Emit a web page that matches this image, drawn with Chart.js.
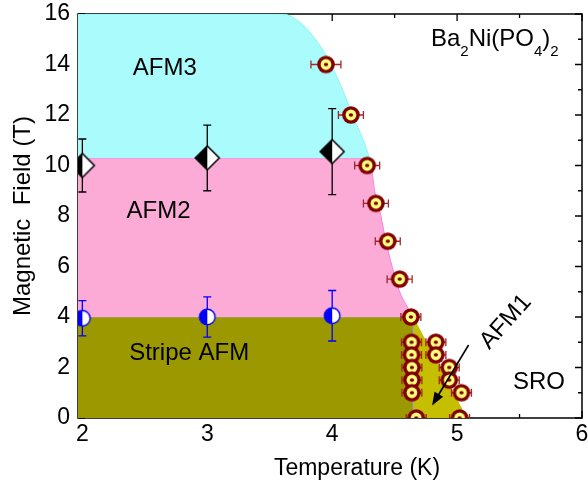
<!DOCTYPE html>
<html>
<head>
<meta charset="utf-8">
<script src="https://cdn.jsdelivr.net/npm/chart.js@4.4.0/dist/chart.umd.min.js"></script>
<style>
  html, body { margin: 0; padding: 0; background: #fff; }
</style>
</head>
<body>
<canvas id="chart" width="588" height="487"></canvas>
<script>
// transition points from the measurements (T in K, H in T)
const tcTemp = [3.95, 4.15, 4.28, 4.35, 4.445, 4.54, 4.63, 4.635, 4.635, 4.638, 4.638, 4.638, 4.673, 4.83, 4.83, 4.937, 4.937, 5.035, 5.02];
const tcField = [14, 12, 10, 8.5, 7, 5.5, 4, 3, 2.5, 2, 1.5, 1, 0, 3, 2.5, 2, 1.5, 1, 0];
const tcErr = [0.12, 0.1, 0.1, 0.1, 0.1, 0.1, 0.08, 0.08, 0.08, 0.08, 0.08, 0.08, 0.08, 0.08, 0.08, 0.08, 0.08, 0.08, 0.08];

const hc2Temp = [2, 3, 4];
const hc2Field = [10.0, 10.3, 10.55];
const hc2Err = [1.05, 1.3, 1.7];

const hc1Temp = [2, 3, 4];
const hc1Field = [3.95, 4.0, 4.05];
const hc1Err = [0.7, 0.8, 1.0];

// outlines of the shaded phases
const afm3Temp = [1.96, 3.6, 3.76, 3.88, 3.96, 4.03, 4.1, 4.18, 4.25, 4.3];
const afm3Field = [16, 16, 15.6, 14.9, 14.3, 13.6, 12.8, 11.8, 11, 10.3];
const afm2Temp = [1.96, 4.3, 4.34, 4.39, 4.43, 4.48, 4.54, 4.59, 4.645];
const afm2Field = [10.3, 10.3, 9, 8, 7, 6, 5, 4.5, 4];
const stripeTemp = [1.96, 4.65, 4.65];
const stripeField = [4, 4, 0];
const afm1Temp = [4.65, 5.08];
const afm1Field = [4, 0];

// axis ticks
const tempTicks = [2, 3, 4, 5, 6];
const fieldTicks = [0, 2, 4, 6, 8, 10, 12, 14, 16];

const FONT = 'Arial, "Liberation Sans", Helvetica, sans-serif';

const zip = (xs, ys) => xs.map((v, i) => ({ x: v, y: ys[i] }));

// marker images
function makeMarker(size, draw) {
  const c = document.createElement('canvas');
  c.width = size;
  c.height = size;
  draw(c.getContext('2d'), size / 2);
  return c;
}

const tcMarker = makeMarker(20, (g, m) => {
  g.fillStyle = '#800000';
  g.beginPath(); g.arc(m, m, 8.8, 0, Math.PI * 2); g.fill();
  g.fillStyle = '#ffff80';
  g.beginPath(); g.arc(m, m, 5.4, 0, Math.PI * 2); g.fill();
  g.fillStyle = '#800000';
  g.beginPath(); g.ellipse(m, m, 2.2, 1.7, 0, 0, Math.PI * 2); g.fill();
});

const diamondMarker = makeMarker(28, (g, m) => {
  const r = 12;
  g.fillStyle = '#fff';
  g.beginPath(); g.moveTo(m, m - r); g.lineTo(m + r, m); g.lineTo(m, m + r); g.closePath(); g.fill();
  g.fillStyle = '#000';
  g.beginPath(); g.moveTo(m, m - r); g.lineTo(m - r, m); g.lineTo(m, m + r); g.closePath(); g.fill();
  g.strokeStyle = '#000';
  g.lineWidth = 1.5;
  g.beginPath(); g.moveTo(m, m - r); g.lineTo(m + r, m); g.lineTo(m, m + r); g.lineTo(m - r, m); g.closePath(); g.stroke();
});

const halfCircleMarker = makeMarker(20, (g, m) => {
  const r = 7.8;
  g.fillStyle = '#fff';
  g.beginPath(); g.arc(m, m, r, 0, Math.PI * 2); g.fill();
  g.fillStyle = '#0000ff';
  g.beginPath(); g.arc(m, m, r, Math.PI / 2, Math.PI * 1.5); g.closePath(); g.fill();
  g.strokeStyle = '#0000ff';
  g.lineWidth = 1.4;
  g.beginPath(); g.arc(m, m, r, 0, Math.PI * 2); g.stroke();
});

// frame with inward ticks on all four sides
const framePlugin = {
  id: 'frame',
  beforeDatasetsDraw(chart) {
    const { ctx, chartArea: a, scales: { x, y } } = chart;
    const minors = vals => vals.slice(0, -1).map((v, i) => (v + vals[i + 1]) / 2);
    ctx.save();
    ctx.strokeStyle = '#000';
    ctx.lineWidth = 1.5;
    ctx.strokeRect(a.left, a.top, a.right - a.left, a.bottom - a.top);
    ctx.lineWidth = 1.3;
    ctx.beginPath();
    const xt = (v, len) => {
      const px = x.getPixelForValue(v);
      ctx.moveTo(px, a.bottom); ctx.lineTo(px, a.bottom - len);
      ctx.moveTo(px, a.top); ctx.lineTo(px, a.top + len);
    };
    const yt = (v, len) => {
      const py = y.getPixelForValue(v);
      ctx.moveTo(a.left, py); ctx.lineTo(a.left + len, py);
      ctx.moveTo(a.right, py); ctx.lineTo(a.right - len, py);
    };
    tempTicks.forEach(v => xt(v, 7));
    minors(tempTicks).forEach(v => xt(v, 4));
    fieldTicks.forEach(v => yt(v, 7));
    minors(fieldTicks).forEach(v => yt(v, 4));
    ctx.stroke();
    ctx.restore();
  }
};

// error bars, drawn just before their own markers
const errorBarPlugin = {
  id: 'errorBars',
  beforeDatasetDraw(chart, args) {
    const ds = chart.data.datasets[args.index];
    if (!ds.err) return;
    const { ctx, chartArea: a, scales: { x, y } } = chart;
    ctx.save();
    ctx.beginPath();
    ctx.rect(a.left, a.top, a.right - a.left, a.bottom - a.top);
    ctx.clip();
    ctx.strokeStyle = ds.errColor;
    ctx.lineWidth = 1.3;
    ctx.beginPath();
    ds.data.forEach((p, i) => {
      const e = ds.err[i];
      const cap = 4;
      if (ds.errAxis === 'x') {
        const py = y.getPixelForValue(p.y);
        const x0 = x.getPixelForValue(p.x - e), x1 = x.getPixelForValue(p.x + e);
        ctx.moveTo(x0, py); ctx.lineTo(x1, py);
        ctx.moveTo(x0, py - cap); ctx.lineTo(x0, py + cap);
        ctx.moveTo(x1, py - cap); ctx.lineTo(x1, py + cap);
      } else {
        const px = x.getPixelForValue(p.x);
        const y0 = y.getPixelForValue(p.y - e), y1 = y.getPixelForValue(p.y + e);
        ctx.moveTo(px, y0); ctx.lineTo(px, y1);
        ctx.moveTo(px - cap, y0); ctx.lineTo(px + cap, y0);
        ctx.moveTo(px - cap, y1); ctx.lineTo(px + cap, y1);
      }
    });
    ctx.stroke();
    ctx.restore();
  }
};

// phase names, compound, arrow
const phaseLabels = [
  { text: 'AFM3', t: 2.66, h: 13.85 },
  { text: 'AFM2', t: 2.61, h: 8.2 },
  { text: 'Stripe AFM', t: 2.855, h: 2.55 },
  { text: 'SRO', t: 5.655, h: 1.4 }
];

const labelPlugin = {
  id: 'labels',
  afterDatasetsDraw(chart) {
    const { ctx, scales: { x, y } } = chart;
    ctx.save();
    ctx.fillStyle = '#000';
    ctx.textAlign = 'center';
    ctx.textBaseline = 'middle';
    ctx.font = '24px ' + FONT;
    phaseLabels.forEach(l => ctx.fillText(l.text, x.getPixelForValue(l.t), y.getPixelForValue(l.h)));

    // rotated AFM1
    ctx.save();
    ctx.translate(x.getPixelForValue(5.39), y.getPixelForValue(3.8));
    ctx.rotate(-48 * Math.PI / 180);
    ctx.fillText('AFM1', 0, 0);
    ctx.restore();

    // arrow
    const x0 = x.getPixelForValue(5.092), y0 = y.getPixelForValue(2.89);
    const x1 = x.getPixelForValue(4.80), y1 = y.getPixelForValue(0.5);
    const ang = Math.atan2(y1 - y0, x1 - x0);
    const hl = 13, hw = 5;
    ctx.strokeStyle = '#000';
    ctx.lineWidth = 1.6;
    ctx.beginPath();
    ctx.moveTo(x0, y0);
    ctx.lineTo(x1 - Math.cos(ang) * hl * 0.8, y1 - Math.sin(ang) * hl * 0.8);
    ctx.stroke();
    ctx.beginPath();
    ctx.moveTo(x1, y1);
    ctx.lineTo(x1 - Math.cos(ang) * hl - Math.sin(ang) * hw, y1 - Math.sin(ang) * hl + Math.cos(ang) * hw);
    ctx.lineTo(x1 - Math.cos(ang) * hl + Math.sin(ang) * hw, y1 - Math.sin(ang) * hl - Math.cos(ang) * hw);
    ctx.closePath();
    ctx.fill();

    // x axis title sits right of the plot centre in the original
    ctx.font = '23px ' + FONT;
    ctx.textBaseline = 'alphabetic';
    ctx.fillText('Temperature (K)', 357, 475);

    // Ba2Ni(PO4)2 with subscripts
    ctx.textAlign = 'left';
    const parts = [['Ba', false], ['2', true], ['Ni(PO', false], ['4', true], [')', false], ['2', true]];
    let cx = 431;
    const base = 46;
    parts.forEach(([s, sub]) => {
      ctx.font = (sub ? '15px ' : '24px ') + FONT;
      ctx.fillText(s, cx, sub ? base + 10 : base);
      cx += ctx.measureText(s).width;
    });
    ctx.restore();
  }
};

const axisFont = { size: 23, family: FONT };

new Chart(document.getElementById('chart'), {
  type: 'scatter',
  data: {
    datasets: [
      {
        data: zip(tcTemp, tcField), err: tcErr, errAxis: 'x', errColor: '#a02828',
        pointStyle: tcMarker, pointRadius: 9, clip: 0, order: 1
      },
      {
        data: zip(hc2Temp, hc2Field), err: hc2Err, errAxis: 'y', errColor: '#000',
        pointStyle: diamondMarker, pointRadius: 12, clip: 0, order: 2
      },
      {
        data: zip(hc1Temp, hc1Field), err: hc1Err, errAxis: 'y', errColor: '#0000ff',
        pointStyle: halfCircleMarker, pointRadius: 9, clip: 0, order: 3
      },
      {
        data: zip(afm3Temp, afm3Field), showLine: true, pointRadius: 0,
        cubicInterpolationMode: 'monotone',
        backgroundColor: '#aafcfc', borderColor: '#8ef4f4', borderWidth: 1,
        fill: { value: 10.3 }, order: 10
      },
      {
        data: zip(afm2Temp, afm2Field), showLine: true, pointRadius: 0,
        cubicInterpolationMode: 'monotone',
        backgroundColor: '#fcaad6', borderColor: '#f080f0', borderWidth: 1,
        fill: { value: 4 }, order: 11
      },
      {
        data: zip(stripeTemp, stripeField), showLine: true, pointRadius: 0, tension: 0,
        backgroundColor: '#9c9900', borderColor: '#a8a8a0', borderWidth: 1,
        fill: 'origin', order: 12
      },
      {
        data: zip(afm1Temp, afm1Field), showLine: true, pointRadius: 0, tension: 0,
        backgroundColor: '#c6be00', borderColor: '#c6be00', borderWidth: 0,
        fill: 'origin', order: 13
      }
    ]
  },
  options: {
    responsive: false,
    animation: false,
    events: [],
    layout: { padding: { top: 14, right: 6, left: 0, bottom: 0 }, autoPadding: false },
    plugins: { legend: { display: false }, tooltip: { enabled: false } },
    scales: {
      x: {
        type: 'linear', min: 1.965, max: 6,
        afterBuildTicks(s) { s.ticks = tempTicks.map(v => ({ value: v })); },
        ticks: { font: axisFont, color: '#000', padding: 3, maxRotation: 0 },
        grid: { display: false, drawTicks: false },
        border: { display: false },
        afterFit(s) { s.height = 69; s.paddingLeft = 0; s.paddingRight = 0; }
      },
      y: {
        type: 'linear', min: 0, max: 16,
        afterBuildTicks(s) { s.ticks = fieldTicks.map(v => ({ value: v })); },
        ticks: { font: axisFont, color: '#000', padding: 8 },
        grid: { display: false, drawTicks: false },
        border: { display: false },
        title: { display: true, text: 'Magnetic  Field (T)', font: { size: 24, family: FONT }, color: '#000', padding: { top: 9, bottom: 9 } },
        afterFit(s) { s.width = 78; s.paddingTop = 0; s.paddingBottom = 0; }
      }
    }
  },
  plugins: [framePlugin, errorBarPlugin, labelPlugin]
});
</script>
</body>
</html>
